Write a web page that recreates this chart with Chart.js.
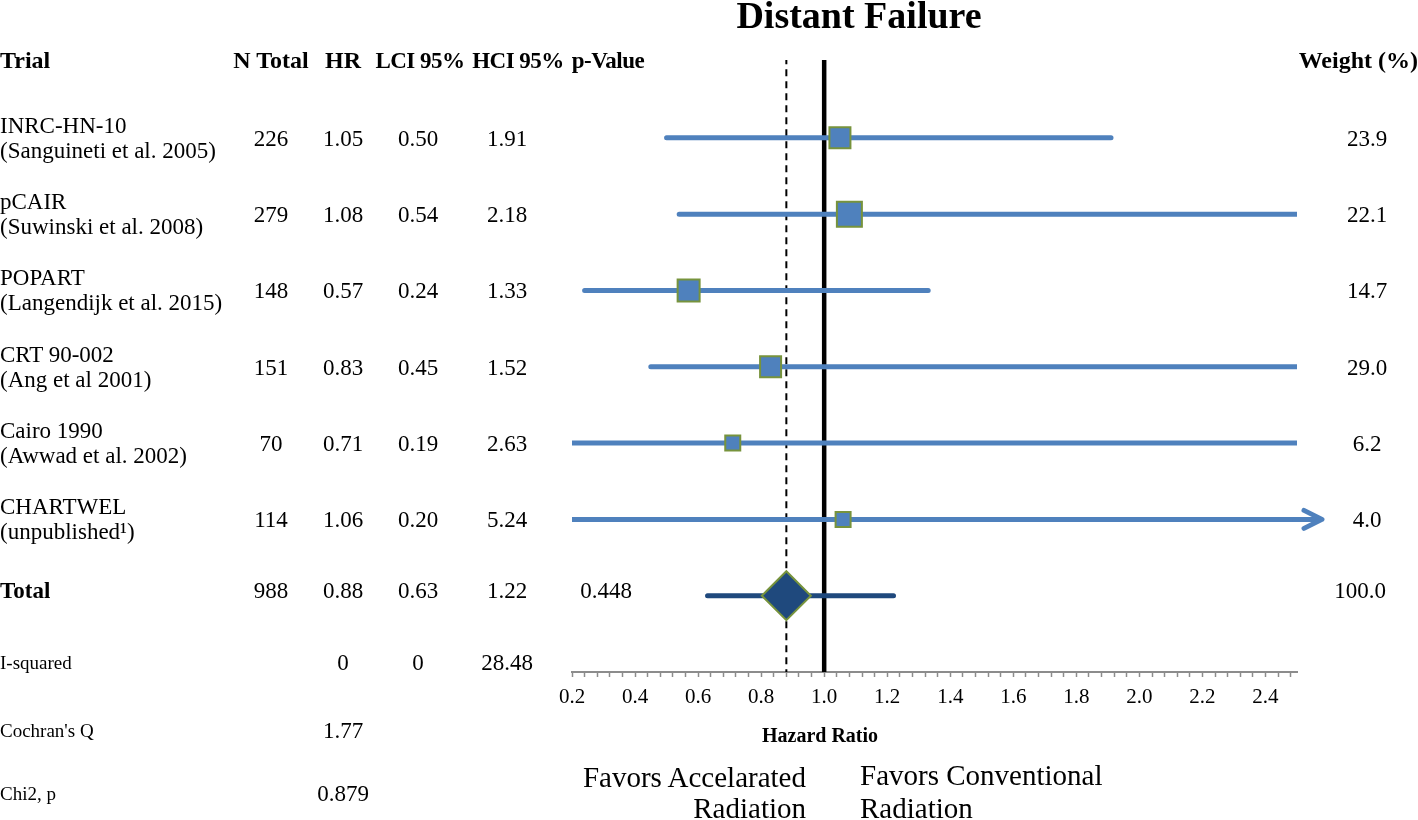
<!DOCTYPE html>
<html>
<head>
<meta charset="utf-8">
<script src="https://cdn.jsdelivr.net/npm/chart.js@4.4.1/dist/chart.umd.min.js"></script>
<style>
	html, body { margin: 0; padding: 0; background: #fff; }
	#wrap { position: relative; width: 1418px; height: 820px; overflow: hidden; font-family: 'Liberation Serif', 'DejaVu Serif', serif; color: #000; }
	#chart { position: absolute; left: 0; top: 0; }
	.t { position: absolute; white-space: nowrap; line-height: 1; font-size: 23px; }
	.c { transform: translate(-50%, -50%); }
	.l { transform: translate(0, -50%); }
	.r { transform: translate(-100%, -50%); }
	.b { font-weight: bold; }
	.h { letter-spacing: -0.5px; }
</style>
</head>
<body>
<div id="wrap">
	<canvas id="chart" width="1418" height="820"></canvas>
	<div id="labels"></div>
</div>
<script>
const trials = ['INRC-HN-10', 'pCAIR', 'POPART', 'CRT 90-002', 'Cairo 1990', 'CHARTWEL']
const studies = ['(Sanguineti et al. 2005)', '(Suwinski et al. 2008)', '(Langendijk et al. 2015)', '(Ang et al 2001)', '(Awwad et al. 2002)', '(unpublished\u00b9)']
const nTotal = [226, 279, 148, 151, 70, 114]
const hr = [1.05, 1.08, 0.57, 0.83, 0.71, 1.06]
const lci = [0.50, 0.54, 0.24, 0.45, 0.19, 0.20]
const hci = [1.91, 2.18, 1.33, 1.52, 2.63, 5.24]
// whisker ends as drawn in the figure (pCAIR and CRT run off the axis)
const drawnHigh = [1.91, 2.6, 1.33, 2.6, 2.63, 5.24]
const weight = [23.9, 22.1, 14.7, 29.0, 6.2, 4.0]

const totalN = 988
const totalHr = 0.88
const totalLci = 0.63
const totalHci = 1.22
const totalP = '0.448'
const totalWeight = 100.0

const iSquared = ['0', '0', '28.48']
const cochranQ = '1.77'
const chi2P = '0.879'

const tickLabels = ['0.2', '0.4', '0.6', '0.8', '1.0', '1.2', '1.4', '1.6', '1.8', '2.0', '2.2', '2.4']

const X_MIN = 0.2
const X_MAX = 2.5
const MINOR_STEP = 0.04

// box side in px for each trial, as drawn
const boxSide = [21, 25, 22, 21, 15, 15]

const BLUE = '#4f81bd'
const NAVY = '#1f497d'
const OLIVE = '#77933c'

const totalRow = trials.length + 1

const whiskerData = []
trials.forEach((_, i) => {
	whiskerData.push({ x: lci[i], y: i + 1 })
	whiskerData.push({ x: drawnHigh[i], y: i + 1 })
	whiskerData.push({ x: drawnHigh[i], y: null })
})

const arrowPlugin = {
	id: 'arrows',
	afterDatasetsDraw(chart) {
		const { ctx, chartArea, scales } = chart
		ctx.save()
		ctx.strokeStyle = BLUE
		ctx.lineWidth = 5
		ctx.lineCap = 'round'
		ctx.lineJoin = 'round'
		hci.forEach((v, i) => {
			if (v <= X_MAX + 1) return
			const y = scales.y.getPixelForValue(i + 1)
			const tip = chartArea.right + 25
			ctx.beginPath()
			ctx.moveTo(chartArea.right - 2, y)
			ctx.lineTo(tip - 2, y)
			ctx.stroke()
			ctx.beginPath()
			ctx.moveTo(tip - 18, y - 9)
			ctx.lineTo(tip, y)
			ctx.lineTo(tip - 18, y + 9)
			ctx.stroke()
		})
		ctx.restore()
	},
}

const chart = new Chart(document.getElementById('chart'), {
	data: {
		datasets: [
			{
				type: 'scatter',
				data: [{ x: totalHr, y: totalRow }],
				pointStyle: 'rectRot',
				pointRadius: 24.5,
				backgroundColor: NAVY,
				borderColor: OLIVE,
				borderWidth: 2,
			},
			{
				type: 'scatter',
				data: hr.map((v, i) => ({ x: v, y: i + 1 })),
				pointStyle: 'rect',
				pointRadius: boxSide.map((s) => s / Math.SQRT2),
				backgroundColor: BLUE,
				borderColor: OLIVE,
				borderWidth: 2,
			},
			{
				type: 'line',
				data: [{ x: totalLci, y: totalRow }, { x: totalHci, y: totalRow }],
				borderColor: NAVY,
				borderWidth: 5,
				borderCapStyle: 'round',
				pointRadius: 0,
			},
			{
				type: 'line',
				data: whiskerData,
				borderColor: BLUE,
				borderWidth: 5,
				borderCapStyle: 'round',
				pointRadius: 0,
				spanGaps: false,
			},
			{
				type: 'line',
				data: [{ x: totalHr, y: -1 }, { x: totalHr, y: 9 }],
				borderColor: '#000',
				borderWidth: 2,
				borderDash: [7, 5],
				pointRadius: 0,
			},
			{
				type: 'line',
				data: [{ x: 1, y: -1 }, { x: 1, y: 9 }],
				borderColor: '#000',
				borderWidth: 4.5,
				pointRadius: 0,
			},
		],
	},
	options: {
		responsive: false,
		animation: false,
		events: [],
		layout: { padding: { left: 572, right: 121, top: 60, bottom: 0 } },
		plugins: {
			legend: { display: false },
			tooltip: { enabled: false },
		},
		scales: {
			x: {
				type: 'linear',
				min: X_MIN,
				max: X_MAX,
				afterBuildTicks: (scale) => {
					const ticks = []
					for (let k = 0; X_MIN + k * MINOR_STEP < X_MAX - 1e-6; k++) {
						ticks.push({ value: +(X_MIN + k * MINOR_STEP).toFixed(2) })
					}
					scale.ticks = ticks
				},
				afterFit: (scale) => {
					scale.height = 148
				},
				border: { color: '#8c8c8c', width: 2 },
				grid: {
					drawOnChartArea: false,
					tickLength: 5,
					tickColor: '#8c8c8c',
					tickWidth: 1.5,
				},
				ticks: {
					autoSkip: false,
					maxRotation: 0,
					padding: 8,
					color: '#000',
					font: { family: "'Liberation Serif', serif", size: 21 },
					callback: (v) => {
						const s = Number(v).toFixed(1)
						return Math.abs(v - Number(s)) < 1e-6 && tickLabels.includes(s) ? s : ''
					},
				},
			},
			y: {
				type: 'linear',
				display: false,
				reverse: true,
				min: -0.02,
				max: 8,
			},
		},
	},
	plugins: [arrowPlugin],
})

const labels = document.getElementById('labels')
function txt(str, x, y, align, cls, size) {
	const d = document.createElement('div')
	d.className = 't ' + align + (cls ? ' ' + cls : '')
	d.style.left = x + 'px'
	d.style.top = y + 'px'
	if (size) d.style.fontSize = size + 'px'
	d.textContent = str
	labels.appendChild(d)
}

const col = { n: 271, hr: 343, lci: 418, hci: 507, p: 606, w: 1367 }
const rowY = (r) => chart.scales.y.getPixelForValue(r)

txt('Distant Failure', 859, 15, 'c', 'b', 38)

txt('Trial', 0, 60, 'l', 'b', 24)
txt('N Total', col.n, 60, 'c', 'b', 24)
txt('HR', col.hr, 60, 'c', 'b', 24)
txt('LCI 95%', 420, 60, 'c', 'b h', 23)
txt('HCI 95%', 518, 60, 'c', 'b h', 23)
txt('p-Value', 608, 60, 'c', 'b h', 23)
txt('Weight (%)', 1418, 60, 'r', 'b', 24)

trials.forEach((name, i) => {
	const y = rowY(i + 1)
	txt(name, 0, y - 13, 'l')
	txt(studies[i], 0, y + 12, 'l')
	txt(String(nTotal[i]), col.n, y, 'c')
	txt(hr[i].toFixed(2), col.hr, y, 'c')
	txt(lci[i].toFixed(2), col.lci, y, 'c')
	txt(hci[i].toFixed(2), col.hci, y, 'c')
	txt(weight[i].toFixed(1), col.w, y, 'c')
})

const ty = rowY(totalRow) - 6
txt('Total', 0, ty, 'l', 'b')
txt(String(totalN), col.n, ty, 'c')
txt(totalHr.toFixed(2), col.hr, ty, 'c')
txt(totalLci.toFixed(2), col.lci, ty, 'c')
txt(totalHci.toFixed(2), col.hci, ty, 'c')
txt(totalP, col.p, ty, 'c')
txt(totalWeight.toFixed(1), 1360, ty, 'c')

txt('I-squared', 0, 662, 'l', '', 19)
txt(iSquared[0], col.hr, 662, 'c')
txt(iSquared[1], col.lci, 662, 'c')
txt(iSquared[2], col.hci, 662, 'c')
txt("Cochran's Q", 0, 730, 'l', '', 19)
txt(cochranQ, col.hr, 730, 'c')
txt('Chi2, p', 0, 793, 'l', '', 19)
txt(chi2P, col.hr, 793, 'c')

txt('Hazard Ratio', 820, 735, 'c', 'b', 20)
txt('Favors Accelarated', 806, 777, 'r', '', 29)
txt('Radiation', 806, 808, 'r', '', 29)
txt('Favors Conventional', 860, 775, 'l', '', 29)
txt('Radiation', 860, 808, 'l', '', 29)
</script>
</body>
</html>
